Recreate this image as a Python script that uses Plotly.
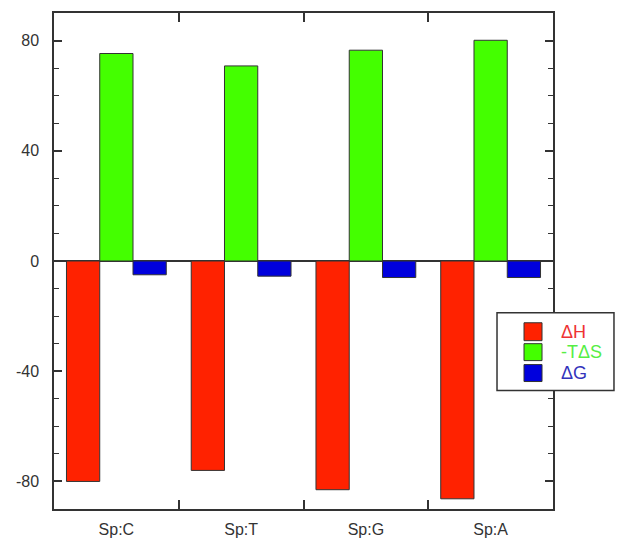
import plotly.graph_objects as go

categories = ["Sp:C", "Sp:T", "Sp:G", "Sp:A"]
dH = [-80, -76, -83, -86.3]
mTdS = [75.3, 70.8, 76.5, 80.1]
dG = [-5.0, -5.5, -6.0, -6.0]
y_ticks = [-80, -40, 0, 40, 80]
y_ticktext = ["-80", "-40", "0", "40", "80"]

series_names = ["ΔH", "-TΔS", "ΔG"]
series_values = [dH, mTdS, dG]
bar_colors = ["#ff2200", "#44ff00", "#0000dd"]
text_colors = ["#ee3333", "#55ee44", "#3333bb"]

fig = go.Figure()
for name, vals, col in zip(series_names, series_values, bar_colors):
    fig.add_trace(go.Bar(
        x=categories, y=vals, name=name,
        marker=dict(color=col, line=dict(color="#333333", width=1)),
    ))

axis_common = dict(
    showline=True, linecolor="#333333", linewidth=1.5,
    mirror="ticks", ticks="inside", tickcolor="#333333",
    showgrid=False,
)

# custom legend (paper coordinates)
shapes = [dict(type="rect", xref="paper", yref="paper",
               x0=0.8878, x1=1.1222, y0=0.239, y1=0.3956,
               line=dict(color="#333333", width=1.5), fillcolor="white", layer="above")]
annotations = []
sw_y = [(0.3394, 0.3755), (0.2992, 0.3333), (0.2570, 0.2912)]
for (y0, y1), name, col, tcol in zip(sw_y, series_names, bar_colors, text_colors):
    shapes.append(dict(type="rect", xref="paper", yref="paper",
                       x0=0.9419, x1=0.9780, y0=y0, y1=y1,
                       line=dict(color="#333333", width=1), fillcolor=col, layer="above"))
    annotations.append(dict(xref="paper", yref="paper", x=1.012, y=(y0 + y1) / 2,
                            xanchor="left", yanchor="middle", text=name, showarrow=False,
                            font=dict(size=18, color=tcol)))

fig.update_layout(
    width=624, height=550,
    margin=dict(l=46, r=79, t=3, b=49),
    paper_bgcolor="white", plot_bgcolor="white",
    barmode="group", bargap=0.2, bargroupgap=0,
    font=dict(family="Liberation Sans, Arial, sans-serif", size=16, color="#333333"),
    xaxis=dict(**axis_common, tickson="boundaries", ticklen=9, tickwidth=1.5,
               ticklabelstandoff=5),
    yaxis=dict(**axis_common, range=[-90, 90], tickvals=y_ticks, ticktext=y_ticktext,
               ticklen=8, tickwidth=1.5,
               zeroline=True, zerolinecolor="#333333", zerolinewidth=1.5,
               ticklabelstandoff=10,
               minor=dict(dtick=10, ticks="inside", ticklen=5, tickcolor="#333333", tickwidth=1.2)),
    showlegend=False,
    shapes=shapes,
    annotations=annotations,
)

fig.write_html("out.html")
